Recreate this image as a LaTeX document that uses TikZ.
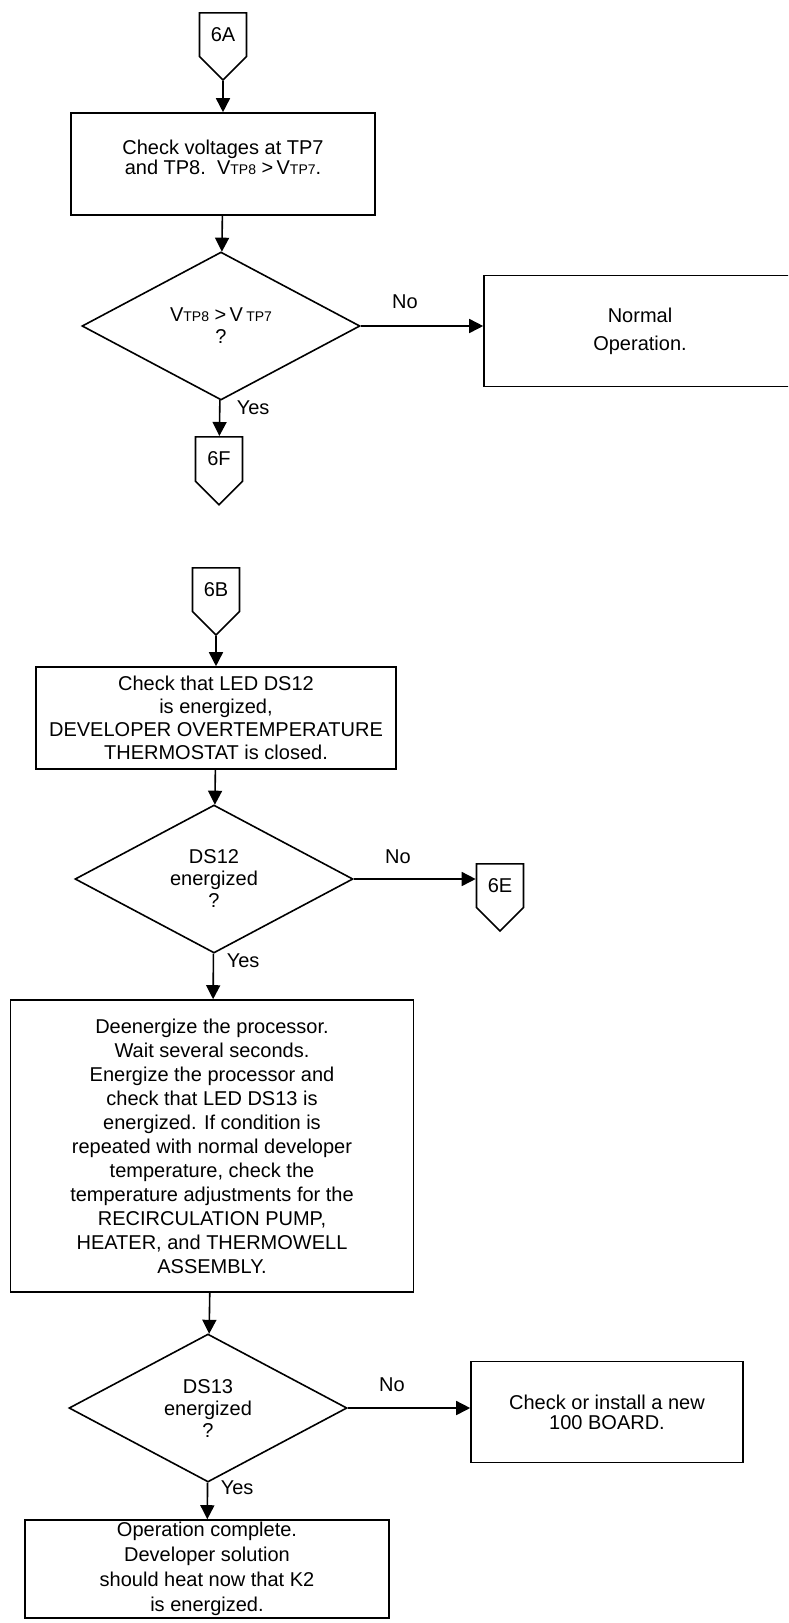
\documentclass[tikz,border=0pt]{standalone}
\usepackage{fontspec}
\setmainfont{Liberation Sans}
\usetikzlibrary{shapes.geometric,shapes.symbols,arrows.meta}
\tikzset{box/.style={draw, align=center, inner sep=2pt},
  test/.style={draw, diamond, aspect=1.9, align=center, inner sep=0pt, minimum width=278pt, minimum height=148pt, font=\fontsize{20}{22}\selectfont},
  conn/.style={draw, signal, signal to=south, minimum width=47pt, minimum height=56pt, inner sep=0pt, font=\fontsize{20}{22}\selectfont},
  flow/.style={-{Triangle[length=14pt,width=14pt]}},
  lbl/.style={inner sep=0pt, font=\fontsize{20}{22}\selectfont}}
\newcommand\tpsmall[1]{{\fontsize{14}{14}\selectfont TP#1}}

\begin{document}
\begin{tikzpicture}[x=1pt,y=-1pt,line width=1.6pt]
  \useasboundingbox (0,0) rectangle (788,1623);
  \clip (0,0) rectangle (788,1623);
  % first chart
  \node[conn, anchor=north] (cA) at (223,12) {6A};
  \node[box, minimum width=304pt, minimum height=102pt, text depth=14pt, font=\fontsize{20}{19.5}\selectfont] (bone) at (223,164)
    {Check voltages at TP7\\and TP8.\ \ V\tpsmall8\ >\,V\tpsmall7.};
  \node[test] (tone) at (221,326) {V\tpsmall8\ >\,V\,\tpsmall7\\?};
  \node[conn, anchor=north] (cF) at (219,436) {6F};
  \node[box, minimum width=312pt, minimum height=111pt, font=\fontsize{20}{28}\selectfont] (bnormal) at (640,331)
    {Normal\\Operation.};
  \node[lbl] (none) at (405,302) {No};
  \node[lbl, anchor=west] (yone) at (236,408) {Yes};
  \draw[flow] (cA) -- (bone);
  \draw[flow] (bone) -- (tone);
  \draw[flow] (tone) -- (cF);
  \draw[flow] (tone.east) -- (tone.east -| bnormal.west);
  % second chart
  \node[conn, anchor=north] (cB) at (216,567) {6B};
  \node[box, minimum width=360pt, minimum height=102pt, font=\fontsize{20}{23}\selectfont] (btwo) at (216,718)
    {Check that LED DS12\\is energized,\\DEVELOPER OVERTEMPERATURE\\THERMOSTAT is closed.};
  \node[test] (ttwo) at (214,879) {DS12\\energized\\?};
  \node[conn, anchor=north] (cE) at (500,863) {6E};
  \node[lbl] (ntwo) at (398,857) {No};
  \node[lbl, anchor=west] (ytwo) at (226,961) {Yes};
  \node[box, minimum width=403pt, minimum height=292pt, font=\fontsize{20}{24}\selectfont] (bthree) at (212,1146)
    {Deenergize the processor.\\Wait several seconds.\\Energize the processor and\\check that LED DS13 is\\
     energized. If condition is\\repeated with normal developer\\temperature, check the\\
     temperature adjustments for the\\RECIRCULATION PUMP,\\HEATER, and THERMOWELL\\ASSEMBLY.};
  \node[test] (tthree) at (208,1408) {DS13\\energized\\?};
  \node[lbl] (nthree) at (392,1385) {No};
  \node[lbl, anchor=west] (ythree) at (220,1488) {Yes};
  \node[box, minimum width=272pt, minimum height=101pt, font=\fontsize{20}{20}\selectfont] (bboard) at (607,1412)
    {Check or install a new\\100 BOARD.};
  \node[box, minimum width=364pt, minimum height=98pt, font=\fontsize{20}{25}\selectfont] (bdone) at (207,1569)
    {Operation complete.\\Developer solution\\should heat now that K2\\is energized.};
  \draw[flow] (cB) -- (btwo);
  \draw[flow] (btwo) -- (ttwo);
  \draw[flow] (ttwo.east) -- (ttwo.east -| cE.west);
  \draw[flow] (ttwo) -- (bthree);
  \draw[flow] (bthree) -- (tthree);
  \draw[flow] (tthree.east) -- (tthree.east -| bboard.west);
  \draw[flow] (tthree) -- (bdone);
\end{tikzpicture}
\end{document}
